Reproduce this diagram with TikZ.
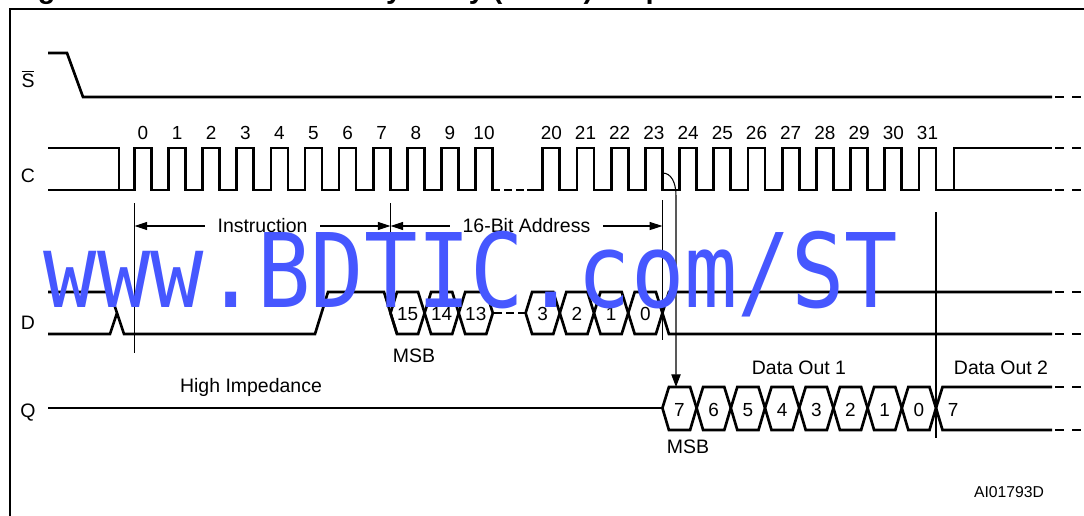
\documentclass[tikz,border=0pt]{standalone}
\usepackage{fontspec}
\setmainfont{Liberation Sans}
\newfontfamily\markfont{DejaVu Sans Mono}
\usetikzlibrary{arrows.meta,positioning}
\definecolor{sigInk}{HTML}{000000}
\definecolor{markBlue}{HTML}{4657FF}
\tikzset{
  every node/.style={font=\fontsize{14.6}{17}\selectfont, text=sigInk, inner sep=0pt},
  bitnum/.style={font=\fontsize{14.2}{16}\selectfont, anchor=base},
  lbl/.style={anchor=base},
  sigline/.style={line width=2pt, draw=sigInk},
  tailline/.style={sigline, dash pattern=on 6.75pt off 6pt},
  gapline/.style={sigline, dash pattern=on 6pt off 3pt},
  marker/.style={line width=0.8pt, draw=sigInk},
  dimline/.style={
    marker,
    {Triangle[length=9.5pt,width=6pt]}-{Triangle[length=9.5pt,width=6pt]}
  },
  cause/.style={marker, -{Triangle[length=9.5pt,width=7pt]}},
  frameline/.style={line width=2pt, draw=sigInk},
  dimtext/.style={fill=white, inner xsep=9.5pt, inner ysep=1pt},
  watermark/.style={font=\fontsize{66.5}{70}\markfont, text=markBlue, anchor=base}
}

\begin{document}
\begin{tikzpicture}[x=0.75pt,y=-0.75pt]
  \useasboundingbox (0,0) rectangle (1084,515);
  \clip (0,0) rectangle (1084,515);
  \def\rz{134.5}
  \def\per{34.1}
  \def\rt{542.8}
  \def\pert{34.2}
  \def\hw{17}
  \def\tw{6.5}
  \def\ends{1052}

  \node[font=\fontsize{21.5}{24}\selectfont\bfseries, anchor=base west] (title)
    at (12,-1.5) {Figure 9. Read from Memory Array (READ) Sequence};
  \draw[frameline] (10,530) -- (10,9) -- (1100,9);

  \node[lbl] (sLbl) at (28,87) {$\overline{\mbox{S}}$};
  \node[lbl] (cLbl) at (28,182) {C};
  \node[lbl] (dLbl) at (28,329) {D};
  \node[lbl] (qLbl) at (28,417) {Q};

  % chip select
  \draw[sigline] (48,53) -- (67,53) -- (83,97) -- (\ends,97);
  \draw[tailline] (1055,97) -- (1090,97);

  % clock
  \draw[sigline] (48,148) -- (119,148) -- (119,190);
  \draw[sigline] (48,190)
    \foreach \n in {0,...,10}{
      -- ({\rz+\n*\per},190) -- ({\rz+\n*\per},148)
      -- ({\rz+\n*\per+\hw},148) -- ({\rz+\n*\per+\hw},190)
    } -- (500,190);
  \draw[gapline] (504,190) -- (524,190);
  \draw[sigline] (527,190)
    \foreach \n in {20,...,31}{
      -- ({\rt+(\n-20)*\pert},190) -- ({\rt+(\n-20)*\pert},148)
      -- ({\rt+(\n-20)*\pert+\hw},148) -- ({\rt+(\n-20)*\pert+\hw},190)
    } -- (954,190) -- (954,148) -- (\ends,148);
  \draw[sigline] (954,190) -- (\ends,190);
  \draw[tailline] (1055,148) -- (1090,148);
  \draw[tailline] (1055,190) -- (1090,190);

  \foreach \n in {0,...,10}
    \node[bitnum] (n\n) at ({\rz+\n*\per+\hw/2},139.5) {\n};
  \foreach \n in {20,...,31}
    \node[bitnum] (n\n) at ({\rt+(\n-20)*\pert+\hw/2},139.5) {\n};

  % markers
  \coordinate (mAtop) at (\rz,203);
  \coordinate (mAbot) at (\rz,353);
  \coordinate (mBtop) at (390.5,203);
  \coordinate (mBbot) at (390.5,237);
  \coordinate (mCtop) at (662.4,200);
  \coordinate (mCbot) at (662.4,340);
  \coordinate (mDtop) at (936,212);
  \coordinate (mDbot) at (936,438);
  \draw[marker] (mAtop) -- (mAbot);
  \draw[marker] (mBtop) -- (mBbot);
  \draw[marker] (mCtop) -- (mCbot);
  \draw[marker] (mDtop) -- (mDbot);

  \coordinate (mA) at (\rz,226);
  \coordinate (mB) at (390.5,226);
  \coordinate (mC) at (662.4,226);
  \draw[dimline] (mA) -- (mB) node[dimtext, midway] (instr) {Instruction};
  \draw[dimline] (mB) -- (mC) node[dimtext, midway] (addr) {16-Bit Address};

  % data in
  \draw[sigline] (48,292) -- (110,292) -- (124,334) -- (315,334) -- (328,292)
    -- ({390.5-\tw},292) -- ({390.5+\tw},334);
  \draw[sigline] (48,334) -- (110,334) -- (117,313);
  \foreach \a/\b/\v in {390.5/424.6/15, 424.6/458.7/14, 458.7/492.8/13,
                        525.6/559.8/3, 559.8/594/2, 594/628.2/1, 628.2/662.4/0}{
    \draw[sigline] (\a,313) -- ({\a+\tw},292) -- ({\b-\tw},292) -- (\b,313)
      -- ({\b-\tw},334) -- ({\a+\tw},334) -- cycle;
    \node[bitnum] (d\v) at ({(\a+\b)/2},320) {\v};
  }
  \draw[gapline] (494,313) -- (525,313);
  \draw[sigline] (662.4,313) -- ({662.4+\tw},292) -- (\ends,292);
  \draw[sigline] (662.4,313) -- ({662.4+\tw},334) -- (\ends,334);
  \draw[tailline] (1055,292) -- (1090,292);
  \draw[tailline] (1055,334) -- (1090,334);
  \node[lbl] (msbD) at (414,362) {MSB};

  % data out
  \node[lbl] (hiZ) at (251,392) {High Impedance};
  \draw[sigline] (48,408) -- (662.4,408);
  \foreach \k/\v in {0/7,1/6,2/5,3/4,4/3,5/2,6/1,7/0}{
    \pgfmathsetmacro\qa{662.4+\k*34.2}
    \pgfmathsetmacro\qb{\qa+34.2}
    \draw[sigline] (\qa,408) -- ({\qa+\tw},387) -- ({\qb-\tw},387) -- (\qb,408)
      -- ({\qb-\tw},430) -- ({\qa+\tw},430) -- cycle;
    \node[bitnum] (q\v) at ({(\qa+\qb)/2},416) {\v};
  }
  \draw[sigline] (936,408) -- ({936+\tw},387) -- (\ends,387);
  \draw[sigline] (936,408) -- ({936+\tw},430) -- (\ends,430);
  \draw[tailline] (1055,387) -- (1090,387);
  \draw[tailline] (1055,430) -- (1090,430);
  \node[bitnum] (q7b) at (953,416) {7};
  \node[lbl] (out1) at (799,374) {Data Out 1};
  \node[lbl] (out2) at (1001,374) {Data Out 2};
  \node[lbl] (msbQ) at (688,453) {MSB};

  \coordinate (c23f) at (662.4,173);
  \coordinate (qtip) at (676,387);
  \draw[cause] (c23f) .. controls (671,173) and (676,182) .. (676,196) -- (qtip);

  \node[font=\fontsize{11.8}{14}\selectfont, anchor=base] (figid) at (1009,497.5) {AI01793D};

  \node[watermark] (wm) at (471,307) {\scalebox{1}[1.16]{www.BDTIC.com/ST}};
\end{tikzpicture}
\end{document}
